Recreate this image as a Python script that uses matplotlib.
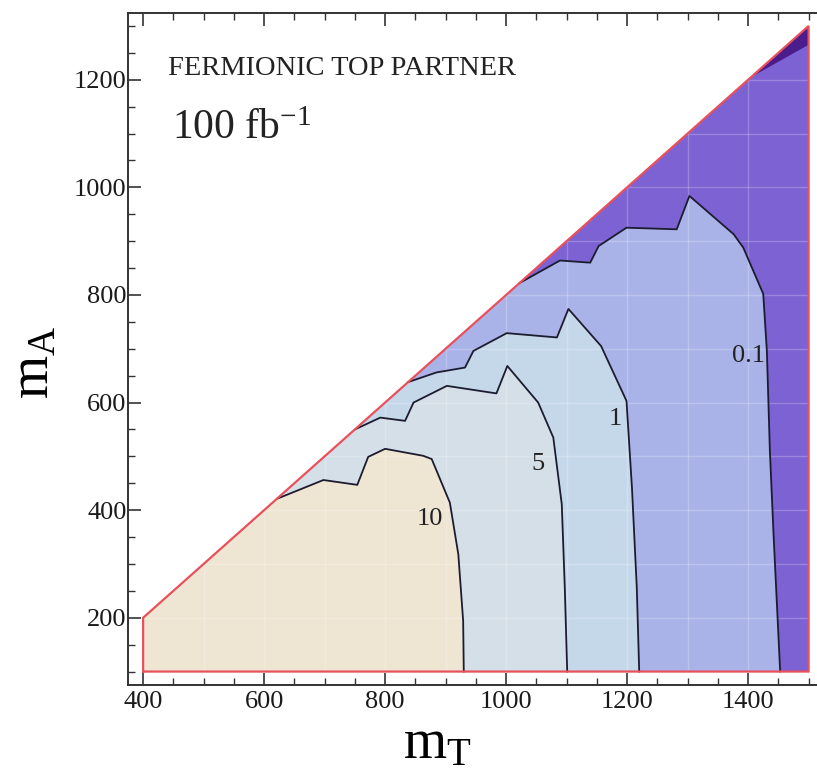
import matplotlib
matplotlib.use("Agg")
import matplotlib.pyplot as plt
import numpy as np
from matplotlib.patches import Polygon
from matplotlib.ticker import MultipleLocator

plt.rcParams['font.family'] = ['Liberation Serif', 'DejaVu Serif']
plt.rcParams['mathtext.fontset'] = 'custom'
plt.rcParams['mathtext.rm'] = 'Liberation Serif'
plt.rcParams['mathtext.it'] = 'Liberation Serif:italic'

# ---- data ----
mT_range = [400, 1500]
mA_min = 100
mA_offset = 200   # kinematic edge: mA = mT - 200

levels = ["10", "5", "1", "0.1"]
contour_10_mT = [621, 698, 754, 772, 800, 863, 877, 907, 921, 929, 930]
contour_10_mA = [421, 456, 447, 499, 514, 501, 495, 414, 318, 194, 100]
contour_5_mT = [750, 792, 833, 847, 902, 984, 1002, 1053, 1078, 1092, 1097, 1101]
contour_5_mA = [550, 572, 566, 600, 631, 617, 668, 600, 535, 411, 256, 100]
contour_1_mT = [838, 885, 932, 946, 1001, 1084, 1103, 1157, 1199, 1208, 1216, 1220]
contour_1_mA = [638, 656, 665, 696, 729, 721, 774, 705, 603, 442, 256, 100]
contour_01_mT = [1022, 1089, 1139, 1153, 1199, 1282, 1303, 1376, 1392, 1425, 1431, 1436, 1442, 1453]
contour_01_mA = [822, 864, 860, 891, 925, 922, 984, 913, 888, 802, 696, 510, 356, 100]
sliver_mT = [1405, 1500, 1500]
sliver_mA = [1205, 1300, 1265]

label_mT = [874, 1053, 1180, 1400]
label_mA = [383, 486, 569, 687]

colors = ['#efe5d3', '#d5dfe7', '#c5d8ea', '#aab3e7', '#7c62d2']
dark_color = '#4a1c8c'
edge_red = '#e8505c'

# ---- figure ----
fig = plt.figure(figsize=(8.17, 7.69), dpi=100)
ax = fig.add_axes([128/817, 84/769, 704.8/817, 672.5/769])
ax.set_xlim(375, 1540)
ax.set_ylim(75, 1325)

x0, x1 = mT_range
region = [(x0, mA_min), (x1, mA_min), (x1, x1 - mA_offset), (x0, x0 - mA_offset)]
base = Polygon(region, closed=True, facecolor=colors[4], edgecolor='none', zorder=1)
ax.add_patch(base)

contours = [(contour_01_mT, contour_01_mA), (contour_1_mT, contour_1_mA),
            (contour_5_mT, contour_5_mA), (contour_10_mT, contour_10_mA)]
fills = [colors[3], colors[2], colors[1], colors[0]]
for (cx, cy), fc in zip(contours, fills):
    pts = list(zip(cx, cy)) + [(x0, mA_min), (x0, x0 - mA_offset)]
    ax.add_patch(Polygon(pts, closed=True, facecolor=fc, edgecolor='none', zorder=2))

ax.add_patch(Polygon(list(zip(sliver_mT, sliver_mA)), closed=True,
                     facecolor=dark_color, edgecolor='none', zorder=2))

# faint mesh lines inside the region
clip = Polygon(region, closed=True, transform=ax.transData, facecolor='none', edgecolor='none')
for gx in range(500, 1500, 100):
    l, = ax.plot([gx, gx], [mA_min, 1300], color='white', lw=1.0, alpha=0.22, zorder=3)
    l.set_clip_path(clip)
for gy in range(200, 1300, 100):
    l, = ax.plot([x0, x1], [gy, gy], color='white', lw=1.0, alpha=0.22, zorder=3)
    l.set_clip_path(clip)

for cx, cy in contours:
    ax.plot(cx, cy, color='#1c1c30', lw=1.3, zorder=4)

# red border
bx = [x0, x1, x1, x0, x0]
by = [mA_min, mA_min, x1 - mA_offset, x0 - mA_offset, mA_min]
ax.plot(bx, by, color=edge_red, lw=1.6, zorder=5, solid_joinstyle='miter')

for lab, lx, ly in zip(levels, label_mT, label_mA):
    ax.text(lx, ly, lab, fontsize=19, ha='center', va='center', color='#222222', zorder=6)

ax.text(441, 1220, 'FERMIONIC TOP PARTNER', fontsize=20.5, ha='left', va='center', color='#222222')
ax.text(447, 1109, r'100 fb$^{-1}$', fontsize=30, ha='left', va='center', color='#222222')

ax.xaxis.set_major_locator(MultipleLocator(200))
ax.xaxis.set_minor_locator(MultipleLocator(50))
ax.yaxis.set_major_locator(MultipleLocator(200))
ax.yaxis.set_minor_locator(MultipleLocator(50))
ax.tick_params(which='both', direction='in', top=True, right=True, colors='#333333')
ax.tick_params(which='major', length=9, width=1.2, labelsize=19, labelcolor='#1a1a1a')
ax.tick_params(which='minor', length=5, width=1.0)
ax.tick_params(axis='y', pad=1)
ax.tick_params(axis='x', pad=4)
for s in ax.spines.values():
    s.set_color('#333333')
    s.set_linewidth(1.4)

ax.set_xlabel(r'$\mathregular{m_T}$', fontsize=40, labelpad=4)
ax.xaxis.label.set_x((437 - 128) / 704.8)
ax.set_ylabel(r'$\mathregular{m_A}$', fontsize=40, labelpad=10)
ax.yaxis.label.set_y((685 - 362) / 672.5)

fig.savefig('out.png', dpi=100)
